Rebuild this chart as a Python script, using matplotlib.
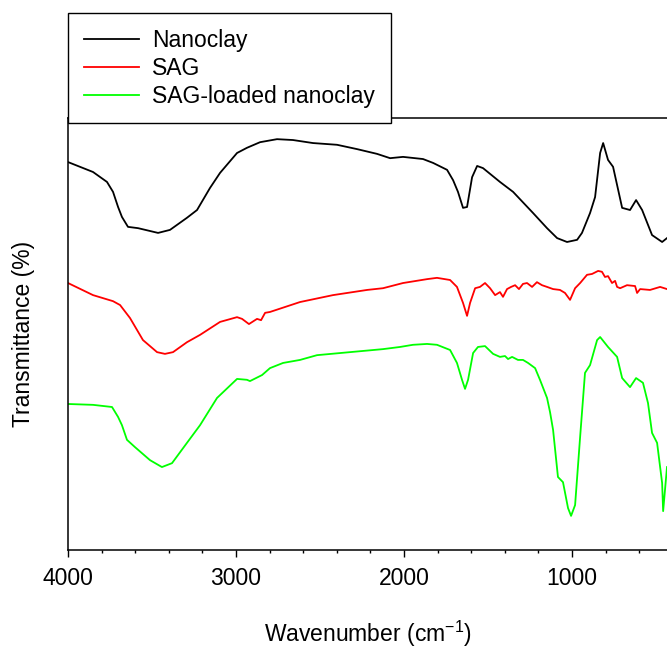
import matplotlib
matplotlib.use("Agg")
import matplotlib.pyplot as plt

plt.rcParams['font.family'] = ['Liberation Sans', 'DejaVu Sans']
plt.rcParams['mathtext.fontset'] = 'custom'
plt.rcParams['mathtext.rm'] = 'Liberation Sans'
plt.rcParams['mathtext.it'] = 'Liberation Sans:italic'

labels = ["Nanoclay", "SAG", "SAG-loaded nanoclay"]
colors = ["#000000", "#ff0000", "#00ff00"]

nano_wn = [4000, 3851, 3768, 3732, 3702, 3679, 3643, 3583, 3464, 3393, 3292, 3232, 3155, 3095,
           2994, 2935, 2857, 2756, 2661, 2542, 2399, 2280, 2161, 2083, 2006, 1887, 1827, 1744,
           1708, 1679, 1649, 1625, 1595, 1565, 1530, 1429, 1351, 1232, 1149, 1089, 1030, 970,
           941, 893, 863, 833, 815, 786, 756, 702, 655, 619, 583, 524, 464, 435]
nano_t = [89.8, 87.5, 85.2, 82.9, 79.4, 77.1, 74.8, 74.5, 73.4, 74.1, 76.9, 78.7, 83.8, 87.3,
          91.9, 93.1, 94.4, 95.1, 94.9, 94.2, 93.8, 92.8, 91.7, 90.7, 91.0, 90.5, 89.6, 88.0,
          85.6, 82.9, 79.2, 79.4, 86.3, 88.9, 88.4, 85.2, 82.9, 78.0, 74.5, 72.2, 71.3, 71.8,
          73.4, 78.0, 81.7, 91.9, 94.2, 90.3, 88.7, 79.2, 78.7, 81.0, 78.7, 72.9, 71.3, 72.2]

sag_wn = [4000, 3851, 3732, 3690, 3631, 3554, 3470, 3423, 3375, 3292, 3214, 3095, 2994, 2964,
          2923, 2875, 2851, 2827, 2798, 2619, 2423, 2220, 2125, 2006, 1863, 1804, 1726, 1685,
          1649, 1625, 1607, 1577, 1548, 1518, 1488, 1458, 1429, 1411, 1387, 1363, 1339, 1316,
          1292, 1268, 1238, 1209, 1179, 1149, 1113, 1072, 1042, 1012, 982, 952, 911, 881, 845,
          822, 804, 786, 762, 744, 732, 714, 673, 625, 613, 595, 536, 476, 435]
sag_t = [61.8, 59.0, 57.6, 56.7, 53.7, 48.6, 45.8, 45.4, 45.8, 48.1, 49.8, 52.8, 53.9, 53.5,
         52.3, 53.5, 53.2, 54.9, 55.1, 57.4, 59.0, 60.2, 60.6, 61.8, 62.7, 63.0, 62.5, 60.9,
         57.2, 54.2, 57.2, 60.6, 60.9, 61.8, 60.6, 59.0, 59.7, 58.6, 60.4, 60.9, 61.3, 60.4,
         61.6, 61.8, 60.9, 62.0, 61.3, 60.9, 60.4, 60.2, 59.5, 57.9, 60.6, 61.8, 63.7, 63.9, 64.6,
         64.4, 63.2, 63.4, 61.8, 62.3, 60.9, 60.6, 61.3, 61.1, 59.5, 60.4, 60.2, 60.9, 60.4]

load_wn = [4000, 3851, 3738, 3702, 3679, 3649, 3601, 3512, 3441, 3381, 3292, 3214, 3113, 2994,
           2935, 2917, 2845, 2798, 2720, 2619, 2518, 2322, 2125, 2024, 1947, 1863, 1804, 1726,
           1685, 1655, 1637, 1619, 1589, 1560, 1518, 1470, 1429, 1399, 1381, 1357, 1322, 1292,
           1262, 1220, 1191, 1149, 1131, 1113, 1084, 1054, 1024, 1006, 982, 952, 923, 893, 851,
           833, 786, 732, 702, 655, 619, 578, 548, 524, 494, 464, 458, 435]
load_t = [33.8, 33.6, 33.1, 30.8, 28.9, 25.5, 23.8, 20.8, 19.2, 20.1, 24.8, 28.9, 35.2, 39.6,
          39.4, 39.1, 40.5, 42.1, 43.3, 44.0, 45.1, 45.8, 46.5, 47.0, 47.5, 47.7, 47.5, 46.3,
          43.3, 39.4, 37.3, 39.4, 45.6, 47.0, 47.2, 45.4, 44.7, 44.9, 44.2, 44.7, 44.0, 44.0,
          43.3, 42.1, 39.4, 35.2, 31.9, 27.8, 16.9, 15.7, 9.7, 7.9, 10.4, 26.2, 41.0, 42.8, 48.6,
          49.3, 47.0, 44.7, 39.8, 37.7, 39.8, 38.7, 34.0, 27.1, 24.8, 15.5, 9.0, 19.2]

major_ticks = [4000, 3000, 2000, 1000]
minor_ticks = list(range(4000, 400, -200))

fig = plt.figure(figsize=(6.67, 6.55), dpi=100)
ax = fig.add_axes([68/667, 1 - 550/655, 599/667, 432/655])

for wn, t, lab, c in zip([nano_wn, sag_wn, load_wn], [nano_t, sag_t, load_t], labels, colors):
    ax.plot(wn, t, color=c, lw=1.3, label=lab, solid_joinstyle='round')

ax.set_xlim(4000, 435)
ax.set_ylim(0, 100)
ax.set_xticks(major_ticks)
ax.set_xticks(minor_ticks, minor=True)
ax.set_xticklabels([str(v) for v in major_ticks])
ax.set_yticks([])
ax.spines['right'].set_visible(False)
for s in ['left', 'bottom', 'top']:
    ax.spines[s].set_linewidth(1.1)
ax.tick_params(axis='x', which='major', direction='out', length=5, width=1, labelsize=16.5, pad=7)
ax.tick_params(axis='x', which='minor', direction='out', length=2.5, width=1)

ax.set_xlabel("Wavenumber (cm$^{-1}$)", fontsize=16.5, va='top')
ax.xaxis.set_label_coords(0.5, -0.16)
ax.set_ylabel("Transmittance (%)", fontsize=16.5)
ax.yaxis.set_label_coords(-0.055, 0.5)

leg = fig.legend(loc='upper left',
                 bbox_to_anchor=(68/667, 1 - 122/655, 323/667, 109/655),
                 mode='expand', fontsize=16.5, frameon=True, fancybox=False,
                 edgecolor='black', framealpha=1, borderaxespad=0, handlelength=2.4,
                 handletextpad=0.57, labelspacing=0.22, borderpad=0.68)
leg.get_frame().set_linewidth(1.0)

fig.savefig("out.png", dpi=100)
